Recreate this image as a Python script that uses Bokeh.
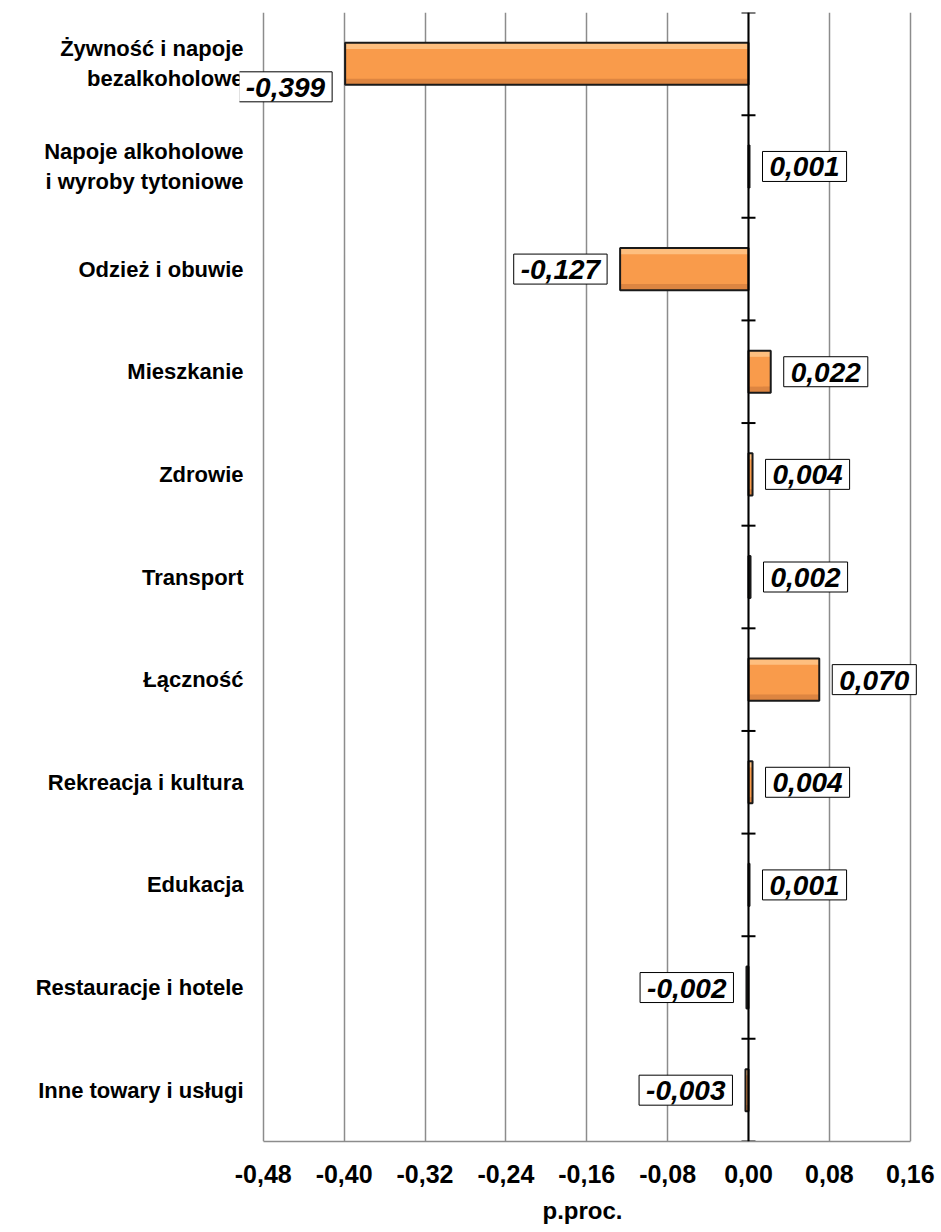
from bokeh.plotting import figure
from bokeh.models import (Range1d, FixedTicker, ColumnDataSource, Span,
                          CustomJSTickFormatter, Label)
from bokeh.embed import file_html
from bokeh.resources import INLINE

# ---------------- data ----------------
categories = [
    "Żywność i napoje\nbezalkoholowe",
    "Napoje alkoholowe\ni wyroby tytoniowe",
    "Odzież i obuwie",
    "Mieszkanie",
    "Zdrowie",
    "Transport",
    "Łączność",
    "Rekreacja i kultura",
    "Edukacja",
    "Restauracje i hotele",
    "Inne towary i usługi",
]
values = [-0.399, 0.001, -0.127, 0.022, 0.004, 0.002, 0.070, 0.004, 0.001, -0.002, -0.003]
x_ticks = [-0.48, -0.40, -0.32, -0.24, -0.16, -0.08, 0.00, 0.08, 0.16]
x_label = "p.proc."

# ---------------- styling / layout ----------------
FONT = "Liberation Sans"
BAR_FILL = "#F99B4B"
BAR_LIGHT = "#FFC88C"
BAR_DARK = "#C9763A"
GRID = "#8C8C8C"
PAD_L = 0.0235   # extra room so value boxes are not clipped by the frame
PAD_R = 0.0151
FRAME_LEFT = 239
LABEL_Y_SHIFT = {0: -23}   # first value box sits a little below its bar

n = len(categories)
centers = [i + 0.5 for i in range(n)]
bar_h = 0.41
strip = 0.06

p = figure(width=941, height=1232, output_backend="svg", toolbar_location=None,
           x_range=Range1d(x_ticks[0] - PAD_L, x_ticks[-1] + PAD_R),
           y_range=Range1d(n, 0),
           min_border_left=FRAME_LEFT, min_border_right=16, min_border_top=12,
           min_border_bottom=91)
p.outline_line_color = None
p.background_fill_color = "white"

# grid
p.ygrid.grid_line_color = None
p.xgrid.grid_line_color = GRID
p.xgrid.grid_line_width = 1.5
p.xgrid.ticker = FixedTicker(ticks=x_ticks)

# x axis
xa = p.xaxis[0]
xa.ticker = FixedTicker(ticks=x_ticks)
xa.bounds = (x_ticks[0], x_ticks[-1])
xa.formatter = CustomJSTickFormatter(code="return tick.toFixed(2).replace('.', ',');")
xa.axis_line_color = GRID
xa.axis_line_width = 1.5
xa.major_tick_line_color = None
xa.minor_tick_line_color = None
xa.major_tick_in = 0
xa.major_tick_out = 0
xa.major_label_standoff = 23
xa.major_label_text_font = FONT
xa.major_label_text_font_style = "bold"
xa.major_label_text_font_size = "25px"
xa.major_label_text_color = "black"
xa.axis_label = x_label
xa.axis_label_text_font = FONT
xa.axis_label_text_font_style = "bold"
xa.axis_label_text_font_size = "24px"
xa.axis_label_text_color = "black"
xa.axis_label_standoff = 11

# y axis (categories)
ya = p.yaxis[0]
ya.ticker = FixedTicker(ticks=centers)
ya.major_label_overrides = {c: lab for c, lab in zip(centers, categories)}
ya.axis_line_color = None
ya.major_tick_line_color = None
ya.minor_tick_line_color = None
ya.major_tick_in = 0
ya.major_tick_out = 0
ya.major_label_standoff = -4
ya.major_label_text_font = FONT
ya.major_label_text_font_style = "bold"
ya.major_label_text_font_size = "22px"
ya.major_label_text_color = "black"

# bars with bevel look
src = ColumnDataSource(dict(
    y=centers, v=values,
    ytop=[c - bar_h / 2 + strip / 2 for c in centers],
    ybot=[c + bar_h / 2 - strip / 2 for c in centers],
))
p.hbar(y="y", left=0, right="v", height=bar_h, source=src,
       fill_color=BAR_FILL, line_color=None)
p.hbar(y="ytop", left=0, right="v", height=strip, source=src,
       fill_color=BAR_LIGHT, fill_alpha=0.8, line_color=None)
p.hbar(y="ybot", left=0, right="v", height=strip, source=src,
       fill_color=BAR_DARK, fill_alpha=0.6, line_color=None)
p.hbar(y="y", left=0, right="v", height=bar_h, source=src,
       fill_color=None, line_color="#1A1A1A", line_width=2)

# zero axis with tick marks at category boundaries
p.add_layout(Span(location=0, dimension="height", line_color="black", line_width=2))
p.scatter(x=[0] * (n + 1), y=list(range(n + 1)), marker="dash", size=14,
          line_color="black", line_width=2)

# value labels in boxes
fmt = lambda v: f"{v:.3f}".replace(".", ",")
for i, (v, c) in enumerate(zip(values, centers)):
    kw = dict(x=v, y=c, text=fmt(v),
              x_offset=13 if v >= 0 else -13,
              y_offset=LABEL_Y_SHIFT.get(i, 0),
              text_align="left" if v >= 0 else "right",
              text_baseline="middle",
              text_font=FONT, text_font_style="bold italic",
              text_font_size="28px", text_color="black",
              background_fill_color="white", border_line_color="black",
              border_line_width=1)
    try:
        lbl = Label(padding=dict(left=7, right=7, top=6, bottom=5), **kw)
    except Exception:
        try:
            lbl = Label(padding=7, **kw)
        except Exception:
            lbl = Label(**kw)
    p.add_layout(lbl)

open("out.html", "w").write(file_html(p, INLINE))
